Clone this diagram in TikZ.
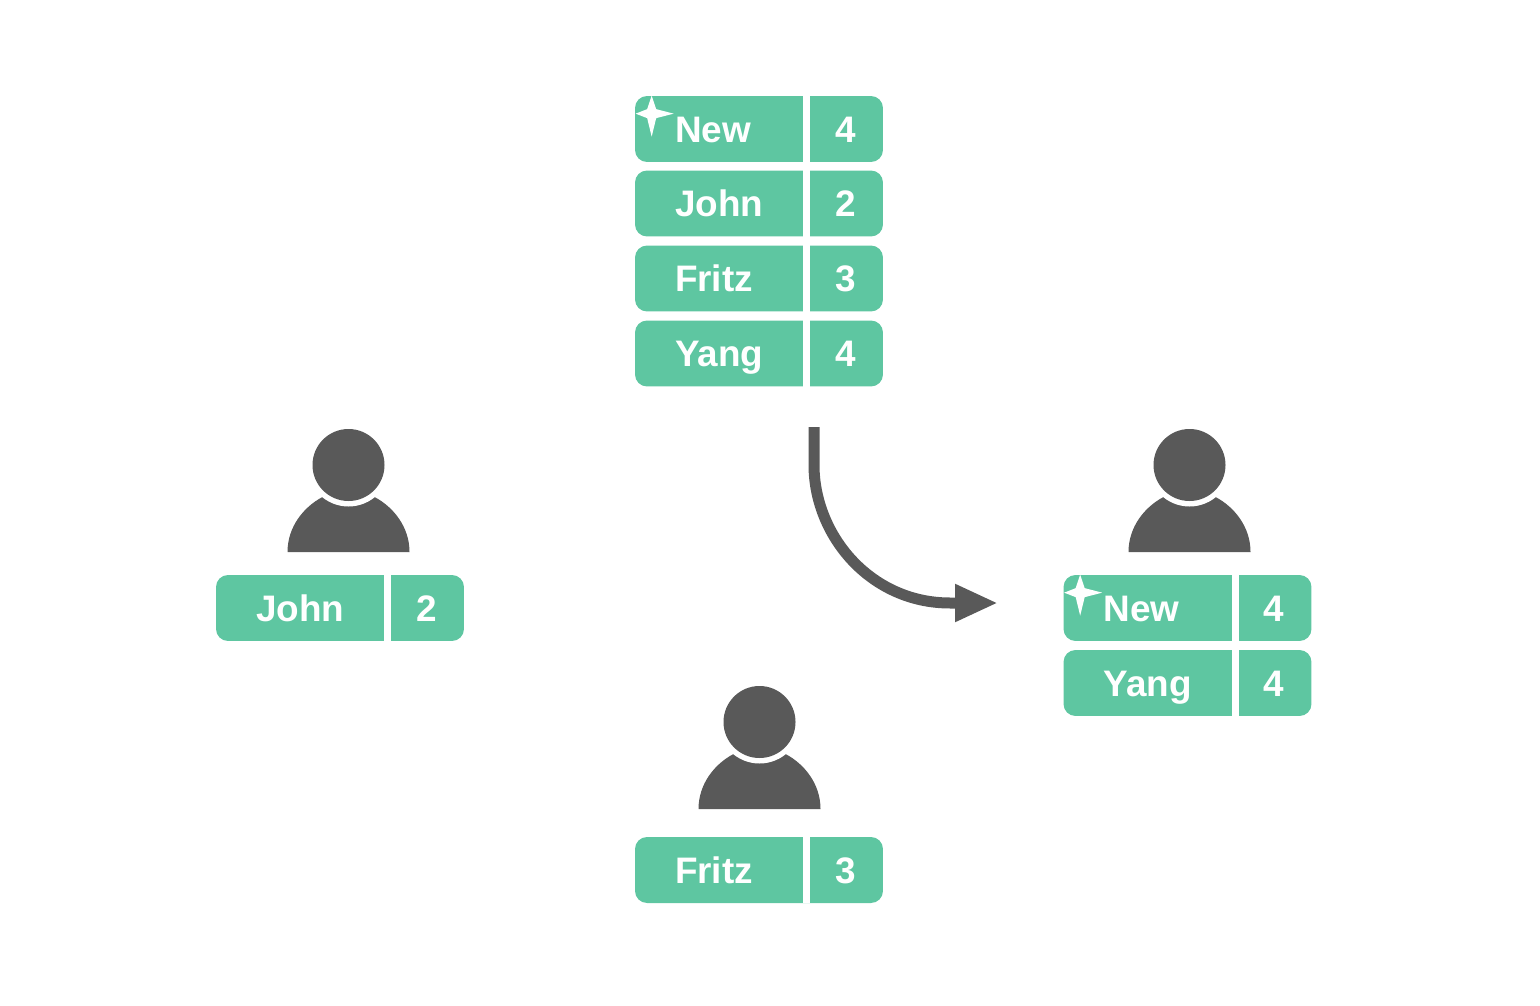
\documentclass[tikz,border=0pt]{standalone}
\usepackage{fontspec}
\setmainfont{Liberation Sans}
\usetikzlibrary{arrows.meta}

\definecolor{rowgreen}{HTML}{5EC6A1}
\definecolor{persongray}{HTML}{595959}

\tikzset{
  rowbox/.style={fill=rowgreen,rounded corners=.24cm,minimum width=4.96cm,minimum height=1.32cm,inner sep=0pt},
  rowtext/.style={text=white,font=\fontsize{21}{25}\selectfont\bfseries,text height=.54cm,text depth=0pt,minimum height=1.32cm,inner ysep=0pt},
  namecell/.style={rowtext,inner xsep=.8cm,text width=1.83cm,align=left},
  valuecell/.style={rowtext,inner xsep=0pt,minimum width=1.5cm,align=center},
  divider/.style={draw=white,line width=.14cm},
  flowarrow/.style={draw=persongray,line width=.22cm,-{Triangle[length=.86cm,width=.7cm]}},
  pics/person/.style={code={
    \fill[persongray] (-61,87) .. controls (-61,62) and (-45,42) .. (-26,32) -- (26,32) .. controls (45,42) and (61,62) .. (61,87) -- cycle;
    \fill[white] (0,0) circle (41.5);
    \fill[persongray] (0,0) circle (36);
  }},
  pics/sparkle/.style={code={
    \fill[white] (0,-18) -- (4.5,-4.5) -- (22,0) -- (4.5,4.5) -- (0,23) -- (-4.5,4.5) -- (-16,0) -- (-4.5,-4.5) -- cycle;
  }}
}

% one row: name, x, y, label, value
\newcommand{\entryrow}[5]{
  \node[rowbox] (#1) at (#2,#3) {};
  \node[namecell,anchor=west] (#1name) at (#1.west) {#4};
  \node[valuecell,anchor=east] (#1value) at (#1.east) {#5};
  \draw[divider] (#1name.north east) -- (#1name.south east);
}

\begin{document}
\begin{tikzpicture}[x=.02cm,y=-.02cm]
  \useasboundingbox (0,0) rectangle (1540,1006);

  % shared table
  \entryrow{tablenew}{759}{129}{New}{4}
  \entryrow{tablejohn}{759}{203.5}{John}{2}
  \entryrow{tablefritz}{759}{278.5}{Fritz}{3}
  \entryrow{tableyang}{759}{353.5}{Yang}{4}
  \pic at ([shift={(17,18)}]tablenew.north west) {sparkle};

  % people
  \pic at (348.5,465) {person};
  \pic at (1189.5,465) {person};
  \pic at (759.5,722) {person};

  \entryrow{leftjohn}{340}{608}{John}{2}
  \entryrow{bottomfritz}{759}{870}{Fritz}{3}
  \entryrow{rightnew}{1187.5}{608}{New}{4}
  \entryrow{rightyang}{1187.5}{683}{Yang}{4}
  \pic at ([shift={(17,18)}]rightnew.north west) {sparkle};

  \coordinate (arrowstart) at (814,427);
  \coordinate (arrowend) at (998,603);
  \draw[flowarrow] (arrowstart) -- (814,465) .. controls (814,535) and (870,603) .. (950,603) -- (arrowend);

\end{tikzpicture}
\end{document}
